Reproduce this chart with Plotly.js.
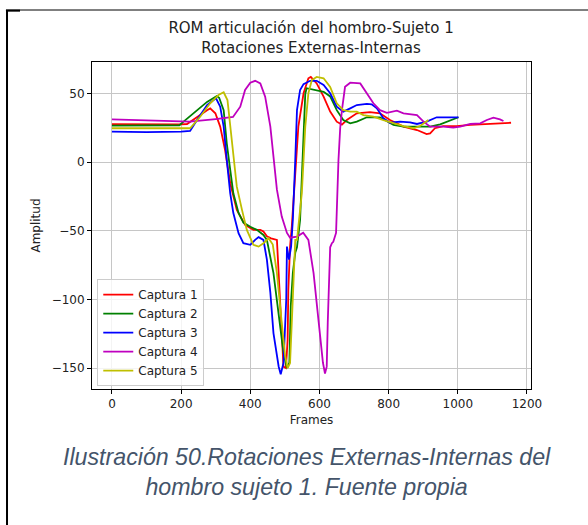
<!DOCTYPE html>
<html>
<head>
<meta charset="utf-8">
<script src="https://cdn.plot.ly/plotly-3.0.1.min.js"></script>
<style>
  html, body { margin: 0; padding: 0; background: #ffffff; }
  #chart { width: 588px; height: 525px; }
</style>
</head>
<body>
<div id="chart"></div>
<script>
// Shoulder external/internal rotation, subject 1: five captures (frame, amplitude)
const seriesNames = ['Captura 1', 'Captura 2', 'Captura 3', 'Captura 4', 'Captura 5'];
const seriesColors = ['#ff0000', '#008000', '#0000ff', '#bf00bf', '#bfbf00'];

const frames1 = [0, 100, 200, 217, 246, 275, 284, 299, 313, 327, 342, 361, 385, 409, 429, 438, 448, 460, 477, 484, 491, 496, 503, 508, 510, 513, 515, 520, 530, 539, 554, 568, 575, 592, 612, 631, 650, 665, 679, 708, 746, 775, 804, 843, 882, 910, 920, 934, 958, 997, 1036, 1074, 1113, 1154];
const amp1 = [27.7, 27.5, 27.6, 27.9, 33.2, 38, 39.3, 35.7, 26, 9, -15.3, -34.7, -45.7, -49.3, -49.3, -50.5, -54, -55.5, -56.6, -93, -129, -149, -150, -129.4, -93, -71, -61.5, -46.9, -10.5, 26, 50.3, 61.2, 62.2, 57.5, 47.8, 37, 29.6, 27.5, 30.8, 35.7, 36.6, 35.7, 30.8, 26, 23.5, 20.6, 21.1, 24.8, 26.4, 26.4, 27.2, 27.7, 27.9, 28.8];

const frames2 = [0, 100, 195, 207, 246, 275, 303, 310, 323, 332, 342, 351, 366, 380, 400, 419, 438, 448, 467, 486, 496, 506, 513, 517, 523, 530, 535, 544, 554, 559, 563, 592, 612, 631, 650, 669, 689, 708, 737, 775, 795, 814, 843, 882, 920, 949, 978, 1002];
const amp2 = [26.7, 26.6, 27, 29.6, 38, 44, 48.3, 47, 38, 13.8, -5.6, -22.6, -37, -44, -47, -49.3, -53, -56.6, -80.8, -119.7, -139, -150, -146, -105, -80.8, -66, -62, -42, 26, 50, 54, 52.7, 51.4, 48, 38, 30.8, 28.4, 29.6, 32.8, 32.8, 29.6, 27.2, 26, 26, 26, 27.7, 30.8, 32.8];

const frames3 = [0, 100, 200, 226, 246, 275, 294, 301, 313, 323, 332, 342, 351, 366, 380, 400, 414, 424, 438, 448, 458, 467, 482, 488, 496, 504, 506, 512, 518, 523, 530, 535, 544, 554, 573, 592, 612, 631, 650, 669, 689, 708, 737, 751, 766, 785, 804, 833, 862, 882, 910, 939, 968, 1002];
const amp3 = [22.3, 22.0, 22.3, 22.8, 30.8, 41.7, 45.4, 46.6, 40.5, 26, 1.7, -22.6, -37, -51.7, -59, -60.2, -56.6, -54.6, -56.6, -71, -95, -124.5, -148.9, -154.5, -146.4, -100, -61.5, -71, -61.5, -42, 1.7, 38, 52.7, 57, 59.4, 59.4, 56.3, 50.3, 40.5, 36.9, 39.3, 41.7, 42.5, 42.2, 39.3, 32, 28.8, 29.6, 29.1, 27.9, 29.6, 32.8, 32.8, 32.8];

const frames4 = [0, 100, 225, 300, 350, 371, 385, 400, 414, 429, 443, 458, 467, 477, 491, 506, 515, 535, 553, 568, 583, 597, 610, 616, 621, 624, 626, 629, 631, 636, 640, 648, 652, 655, 660, 665, 674, 689, 718, 737, 756, 775, 795, 824, 843, 882, 901, 920, 958, 987, 1007, 1036, 1065, 1084, 1103, 1122, 1132];
const amp4 = [31.3, 30.5, 29.6, 31.5, 33, 40.5, 52.7, 58, 59.4, 57.5, 47.8, 26, 4, -20, -39.6, -51.5, -55, -54.2, -51.3, -56.6, -80.8, -117, -146, -154, -149, -117, -98, -90, -62, -59, -58, -51.5, -20, 1.7, 25, 38, 55, 58, 57.5, 50.2, 43, 38, 36, 37.6, 35.7, 34.4, 29.6, 26, 26, 25.2, 26, 27.9, 28.4, 30.8, 32.5, 31.3, 30.1];

const frames5 = [0, 100, 215, 226, 255, 284, 308, 323, 334, 342, 351, 361, 376, 390, 409, 424, 438, 453, 465, 477, 491, 501, 508, 515, 520, 525, 530, 535, 549, 559, 568, 578, 592, 612, 631, 650, 669, 689, 708, 727, 756, 785, 814, 843, 872, 891, 915];
const amp5 = [24.8, 24.6, 24.8, 24.8, 33.2, 43, 49, 51, 45.4, 26, 1.7, -17.8, -34.7, -49.3, -60.2, -61.5, -59, -55.4, -60, -80.8, -117, -141.6, -150, -146.4, -117, -80.8, -56.6, -56.6, -22.6, 26, 50.3, 60, 62.2, 61.2, 55, 43, 38, 36.9, 36.9, 34.4, 33.2, 30.8, 28.4, 26.4, 24.8, 26.4, 30.8];

const xTicks = [0, 200, 400, 600, 800, 1000, 1200];
const yTicks = [-150, -100, -50, 0, 50];

const allFrames = [frames1, frames2, frames3, frames4, frames5];
const allAmps = [amp1, amp2, amp3, amp4, amp5];

const traces = seriesNames.map((name, i) => ({
  type: 'scatter',
  mode: 'lines',
  name: name,
  x: allFrames[i],
  y: allAmps[i],
  line: { color: seriesColors[i], width: 1.8 }
}));

const font = 'DejaVu Sans, sans-serif';
const axisCommon = {
  showline: true, mirror: true, linecolor: '#000000', linewidth: 1,
  ticks: 'outside', ticklen: 4, tickcolor: '#000000', tickwidth: 1,
  showgrid: true, gridcolor: '#c6c6c6', gridwidth: 1,
  zeroline: false,
  tickfont: { family: font, size: 12, color: '#222222' }
};

// page frame lines around the figure
const frameShapes = [
  { type: 'line', xref: 'paper', yref: 'paper', x0: -0.1936, x1: -0.1936, y0: 1.159, y1: -0.42, line: { color: '#000000', width: 2 } },
  { type: 'line', xref: 'paper', yref: 'paper', x0: -0.196, x1: 1.14, y0: 1.159, y1: 1.159, line: { color: '#000000', width: 1 } },
  { type: 'line', xref: 'paper', yref: 'paper', x0: -0.196, x1: -0.164, y0: 1.157, y1: 1.157, line: { color: '#000000', width: 2 } }
];

const layout = {
  width: 588, height: 525,
  margin: { l: 92, r: 57, t: 62, b: 136 },
  paper_bgcolor: '#ffffff', plot_bgcolor: '#ffffff',
  showlegend: true,
  title: {
    text: 'ROM articulación del hombro-Sujeto 1<br>Rotaciones Externas-Internas',
    font: { family: font, size: 15, color: '#222222' },
    x: 0.529, xanchor: 'center', xref: 'container',
    y: 1 - 33 / 525, yanchor: 'top', yref: 'container'
  },
  xaxis: Object.assign({}, axisCommon, {
    range: [-57.7, 1211.7], tickvals: xTicks,
    title: { text: 'Frames', font: { family: font, size: 12, color: '#222222' }, standoff: 5 }
  }),
  yaxis: Object.assign({}, axisCommon, {
    range: [-165.3, 73.1], tickvals: yTicks,
    title: { text: 'Amplitud', font: { family: font, size: 12, color: '#222222' }, standoff: 8 }
  }),
  legend: {
    x: 0.012, y: 0.009, xanchor: 'left', yanchor: 'bottom',
    bgcolor: 'rgba(255,255,255,0.8)', bordercolor: '#cccccc', borderwidth: 1,
    font: { family: font, size: 12, color: '#222222' },
    tracegroupgap: 0
  },
  shapes: frameShapes,
  annotations: [{
    text: 'Ilustración 50.Rotaciones Externas-Internas del<br>hombro sujeto 1. Fuente propia',
    xref: 'paper', yref: 'paper', x: 0.49, y: -0.255,
    xanchor: 'center', yanchor: 'middle', showarrow: false, align: 'center',
    font: { family: 'Liberation Sans, Arial, sans-serif', size: 23.2, color: '#44546a', style: 'italic' }
  }]
};

Plotly.newPlot('chart', traces, layout, { displayModeBar: false, staticPlot: true });
</script>
</body>
</html>
